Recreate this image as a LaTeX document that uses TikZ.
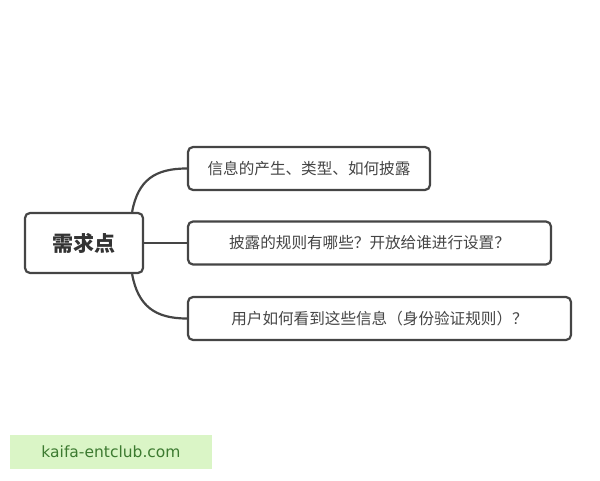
\documentclass[tikz,border=0pt]{standalone}
\usepackage{fontspec}
\newfontfamily\cjk{Noto Sans CJK SC}
\newfontfamily\wmfont{DejaVu Sans}
\usepackage{tikz}
\definecolor{linegray}{HTML}{454545}
\definecolor{wmfill}{HTML}{DAF5C6}
\definecolor{wmtext}{HTML}{3C7A30}
\tikzset{
    topic/.style={draw=linegray,line width=2.2pt,rounded corners=5pt,fill=white,
        minimum height=43pt,inner sep=0pt,text=linegray,font=\cjk\fontsize{15.6}{18}\selectfont},
    rootbox/.style={topic,minimum height=60pt,minimum width=118pt,text=black!80,
        font=\cjk\bfseries\fontsize{21}{24}\selectfont},
    branch/.style={draw=linegray,line width=2.2pt}
}

\begin{document}
\begin{tikzpicture}[x=1pt,y=1pt]
            \useasboundingbox (0,0) rectangle (600,480);

            \node[rootbox] (root) at (84,237) {需求点};
            \node[topic,minimum width=242pt] (info) at (309,311.5) {信息的产生、类型、如何披露};
            \node[topic,minimum width=363pt] (rule) at (369.5,237) {披露的规则有哪些？开放给谁进行设置？};
            \node[topic,minimum width=383pt] (user) at (379.5,161.5) {用户如何看到这些信息（身份验证规则）？};

            \coordinate (uptop) at ([xshift=-12pt]root.north east);
            \coordinate (downbot) at ([xshift=-12pt]root.south east);
            \draw[branch] (uptop) .. controls (138,300) and (155,311.5) .. (info.west);
            \draw[branch] (root.east) -- (rule.west);
            \draw[branch] (downbot) .. controls (138,174) and (155,161.5) .. (user.west);

            \node[fill=wmfill,minimum width=202pt,minimum height=34pt,inner sep=0pt,
                text=wmtext,font=\wmfont\fontsize{15.5}{18}\selectfont] (mark) at (111,28) {kaifa-entclub.com};

        \end{tikzpicture}
\end{document}
